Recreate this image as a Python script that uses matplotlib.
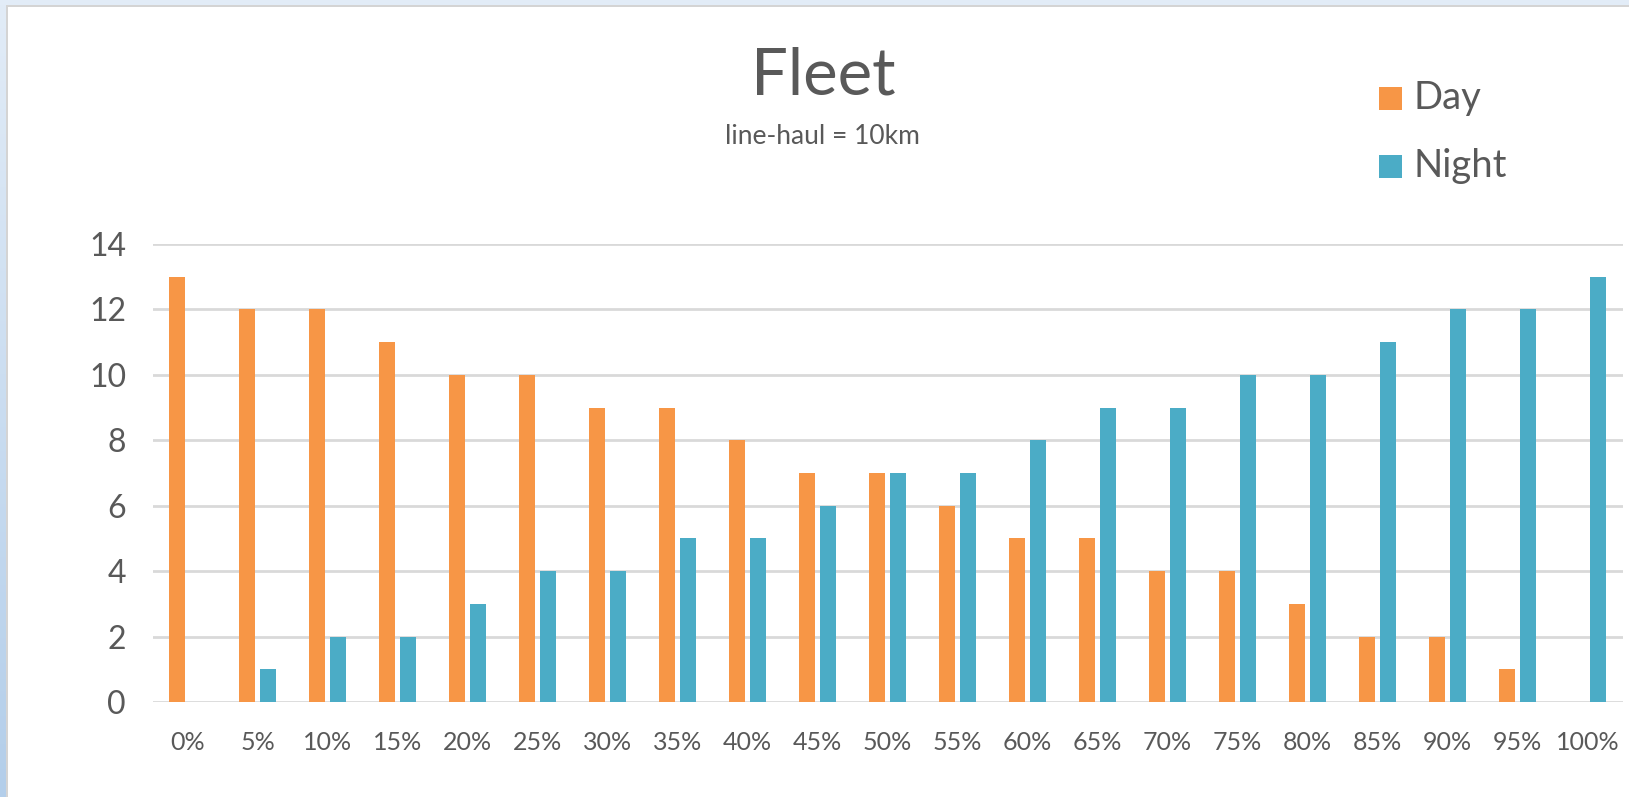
import numpy as np
import matplotlib.pyplot as plt
from matplotlib.patches import Rectangle
import matplotlib.colors as mcolors

categories = ["0%", "5%", "10%", "15%", "20%", "25%", "30%", "35%", "40%", "45%",
              "50%", "55%", "60%", "65%", "70%", "75%", "80%", "85%", "90%", "95%", "100%"]
day = [13, 12, 12, 11, 10, 10, 9, 9, 8, 7, 7, 6, 5, 5, 4, 4, 3, 2, 2, 1, 0]
night = [0, 1, 2, 2, 3, 4, 4, 5, 5, 6, 7, 7, 8, 9, 9, 10, 10, 11, 12, 12, 13]
y_ticks = [0, 2, 4, 6, 8, 10, 12, 14]

DAY_COLOR = "#F79646"
NIGHT_COLOR = "#4BACC6"
TEXT_COLOR = "#595959"
GRID_COLOR = "#D9D9D9"
FONT = ["Lato", "DejaVu Sans"]

plt.rcParams["font.family"] = FONT

W, H = 1629, 797
fig = plt.figure(figsize=(W / 100, H / 100), dpi=100)
fig.patch.set_facecolor("white")

# window frame: blue gradient strips on top and left, thin grey border
frame = fig.add_axes([0, 0, 1, 1], zorder=-10)
frame.set_xlim(0, W)
frame.set_ylim(H, 0)
frame.axis("off")
grad = np.linspace(0, 1, 256).reshape(-1, 1)
cmap = mcolors.LinearSegmentedColormap.from_list("frame", ["#E2ECF7", "#B3CEEA"])
frame.imshow(grad, cmap=cmap, aspect="auto", extent=[0, 6, H, 0])
frame.add_patch(Rectangle((0, 0), W, 4.5, color="#E2ECF7", lw=0))
frame.add_patch(Rectangle((6, 4.5), 2, H, color="#D4D4D4", lw=0))
frame.add_patch(Rectangle((6, 4.5), W, 2, color="#D4D4D4", lw=0))

left, right = 152.5 / W, 1622.5 / W
bottom, top = 1 - 702 / H, 1 - 244 / H
ax = fig.add_axes([left, bottom, right - left, top - bottom])

x = np.arange(len(categories))
bw = 0.229
off = 0.15
ax.bar(x - off, day, width=bw, color=DAY_COLOR, label="Day", zorder=3)
ax.bar(x + off, night, width=bw, color=NIGHT_COLOR, label="Night", zorder=3)

ax.set_xlim(-0.5, len(categories) - 0.5)
ax.set_ylim(0, 14)
ax.set_yticks(y_ticks)
ax.set_xticks(x)
ax.set_xticklabels(categories)
ax.tick_params(axis="y", length=0, pad=19, labelsize=23, labelcolor=TEXT_COLOR)
ax.tick_params(axis="x", length=0, pad=21, labelsize=18, labelcolor=TEXT_COLOR)
ax.yaxis.grid(True, color=GRID_COLOR, lw=2)
ax.set_axisbelow(True)
for s in ax.spines.values():
    s.set_visible(False)
ax.set_facecolor("none")

fig.text(823 / W, 1 - 76 / H, "Fleet", ha="center", va="center",
         fontsize=47, color=TEXT_COLOR)
fig.text(822 / W, 1 - 136 / H, "line-haul = 10km", ha="center", va="center",
         fontsize=19, color=TEXT_COLOR)

# legend
for i, (lab, col) in enumerate([("Day", DAY_COLOR), ("Night", NIGHT_COLOR)]):
    yc = 98 + i * 68
    frame.add_patch(Rectangle((1379, yc - 11.5), 23, 23, color=col, lw=0))
    frame.text(1414, yc, lab, ha="left", va="center", fontsize=27.5, color=TEXT_COLOR)

fig.savefig("out.png", dpi=100)
